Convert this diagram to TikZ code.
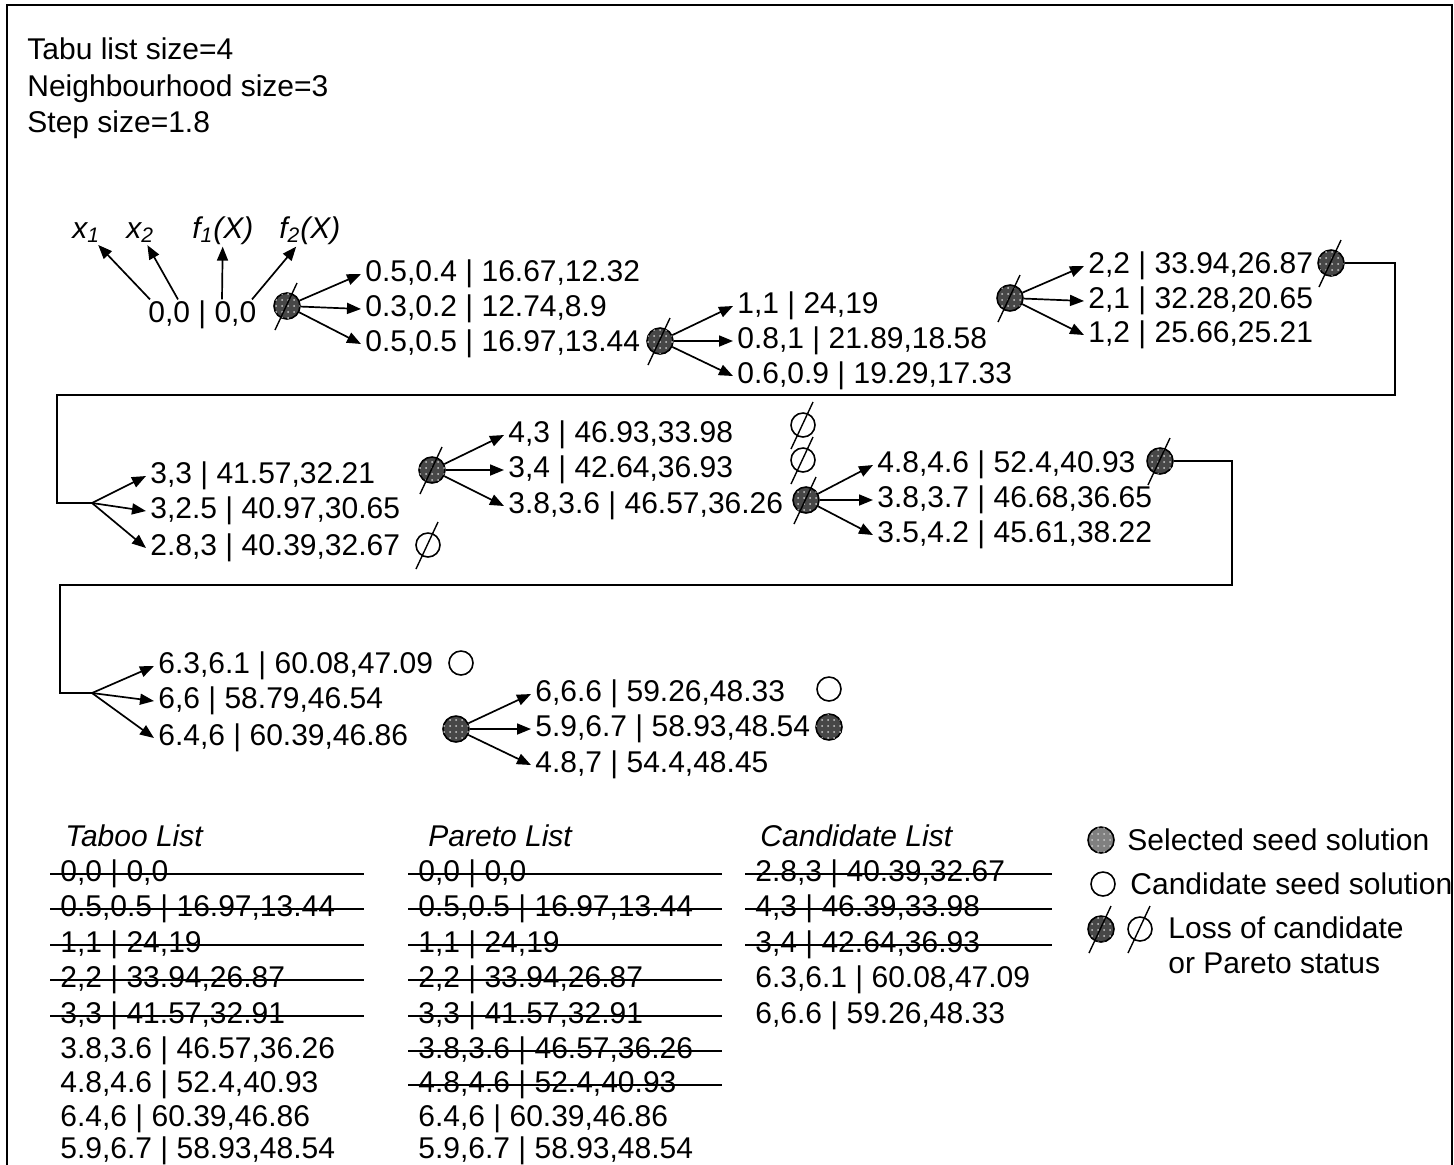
\documentclass[tikz,border=0pt]{standalone}
\usepackage{fontspec}
\setmainfont{Liberation Sans}
\usetikzlibrary{arrows.meta,patterns}
\newcommand{\cutnode}[1]{\draw[line width=0.7pt] (#1) ++(-12,24) -- ++(22,-47);}

\begin{document}
\begin{tikzpicture}[x=0.5pt,y=-0.5pt,font=\fontsize{15}{17}\selectfont,t/.style={anchor=west,inner sep=2pt,text height=0.72em,text depth=0pt,yshift=-1.5pt},lab/.style={anchor=base west,inner sep=1pt},seed/.style={circle,draw,line width=0.8pt,fill=black!72,postaction={pattern=dots,pattern color=white!80!black},minimum size=13pt,inner sep=0pt},cand/.style={circle,draw,line width=0.8pt,minimum size=12pt,inner sep=0pt},arr/.style={-{Triangle[length=7pt,width=5.5pt]},line width=0.85pt},ln/.style={line width=0.85pt}]
\useasboundingbox (0,0) rectangle (1454,1164);
\clip (0,0) rectangle (1454,1164);
\draw[ln] (7,5) rectangle (1452,1300);
% parameters
\node[t] (h1) at (23,49) {Tabu list size=4};
\node[t] (h2) at (23,86) {Neighbourhood size=3};
\node[t] (h3) at (23,122) {Step size=1.8};
% first row
\node[lab] (lx1) at (70,238) {\textit{x\textsubscript{1}}};
\node[lab] (lx2) at (124,238) {\textit{x\textsubscript{2}}};
\node[lab] (lf1) at (190,238) {\textit{f\textsubscript{1}(X)}};
\node[lab] (lf2) at (277,238) {\textit{f\textsubscript{2}(X)}};
\node[t] (root) at (144,312) {0,0 | 0,0};
\draw[arr] ([xshift=3pt,yshift=2pt]root.north west) -- (lx1);
\draw[arr] ([xshift=17pt,yshift=2pt]root.north west) -- (lx2);
\draw[arr] ([xshift=39pt,yshift=2pt]root.north west) -- (lf1);
\draw[arr] ([xshift=54pt,yshift=2pt]root.north west) -- (lf2);
\node[seed] (c1) at (287,306) {};\cutnode{c1}
\node[t] (a1) at (361,271) {0.5,0.4 | 16.67,12.32};
\node[t] (a2) at (361,306) {0.3,0.2 | 12.74,8.9};
\node[t] (a3) at (361,341) {0.5,0.5 | 16.97,13.44};
\draw[arr](c1)--(a1.west);\draw[arr](c1)--(a2.west);\draw[arr](c1)--(a3.west);
\node[seed] (c2) at (660,341) {};\cutnode{c2}
\node[t] (b1) at (733,303) {1,1 | 24,19};
\node[t] (b2) at (733,338) {0.8,1 | 21.89,18.58};
\node[t] (b3) at (733,373) {0.6,0.9 | 19.29,17.33};
\draw[arr](c2)--(b1.west);\draw[arr](c2)--(b2.west);\draw[arr](c2)--(b3.west);
\node[seed] (c3) at (1010,298) {};\cutnode{c3}
\node[t] (d1) at (1084,263) {2,2 | 33.94,26.87};
\node[t] (d2) at (1084,298) {2,1 | 32.28,20.65};
\node[t] (d3) at (1084,332) {1,2 | 25.66,25.21};
\draw[arr](c3)--(d1.west);\draw[arr](c3)--(d2.west);\draw[arr](c3)--(d3.west);
\node[seed] (c4) at (1331,263) {};\cutnode{c4}
\coordinate (k1) at (1395,395);\coordinate (k2) at (57,395);\coordinate (p1) at (92,503);
\draw[ln] (c4.east) -| (k1) -- (k2) |- (p1);
% second row
\node[t] (e1) at (146,473) {3,3 | 41.57,32.21};
\node[t] (e2) at (146,508) {3,2.5 | 40.97,30.65};
\node[t] (e3) at (146,545) {2.8,3 | 40.39,32.67};
\draw[arr](p1)--(e1.west);\draw[arr](p1)--(e2.west);\draw[arr](p1)--(e3.west);
\node[cand] (z1) at (428,545) {};\cutnode{z1}
\node[seed] (c5) at (432,470) {};\cutnode{c5}
\node[t] (g1) at (504,432) {4,3 | 46.93,33.98};
\node[t] (g2) at (504,467) {3,4 | 42.64,36.93};
\node[t] (g3) at (504,503) {3.8,3.6 | 46.57,36.26};
\draw[arr](c5)--(g1.west);\draw[arr](c5)--(g2.west);\draw[arr](c5)--(g3.west);
\node[cand] (z2) at (803,425) {};\cutnode{z2}
\node[cand] (z3) at (803,460) {};\cutnode{z3}
\node[seed] (c6) at (806,500) {};\cutnode{c6}
\node[t] (n1) at (873,462) {4.8,4.6 | 52.4,40.93};
\node[t] (n2) at (873,497) {3.8,3.7 | 46.68,36.65};
\node[t] (n3) at (873,532) {3.5,4.2 | 45.61,38.22};
\draw[arr](c6)--(n1.west);\draw[arr](c6)--(n2.west);\draw[arr](c6)--(n3.west);
\node[seed] (c7) at (1160,461) {};\cutnode{c7}
\coordinate (k3) at (1232,585);\coordinate (k4) at (60,585);\coordinate (p2) at (92,693);
\draw[ln] (c7.east) -| (k3) -- (k4) |- (p2);
% third row
\node[t] (m1) at (154,663) {6.3,6.1 | 60.08,47.09};
\node[t] (m2) at (154,698) {6,6 | 58.79,46.54};
\node[t] (m3) at (154,735) {6.4,6 | 60.39,46.86};
\draw[arr](p2)--(m1.west);\draw[arr](p2)--(m2.west);\draw[arr](p2)--(m3.west);
\node[cand] (o1) at (461,663) {};
\node[seed] (c8) at (456,729) {};
\node[t] (q1) at (531,691) {6,6.6 | 59.26,48.33};
\node[t] (q2) at (531,726) {5.9,6.7 | 58.93,48.54};
\node[t] (q3) at (531,762) {4.8,7 | 54.4,48.45};
\draw[arr](c8)--(q1.west);\draw[arr](c8)--(q2.west);\draw[arr](c8)--(q3.west);
\node[cand] (o2) at (829,689) {};
\node[seed] (c9) at (829,727) {};
% lists
\coordinate (tR) at (364,0);\coordinate (pR) at (722,0);\coordinate (cR) at (1052,0);
\node[t] (th) at (61,836) {\textit{Taboo List}};
\node[t] (ta1) at (56,871) {0,0 | 0,0};
\node[t] (ta2) at (56,906) {0.5,0.5 | 16.97,13.44};
\node[t] (ta3) at (56,942) {1,1 | 24,19};
\node[t] (ta4) at (56,977) {2,2 | 33.94,26.87};
\node[t] (ta5) at (56,1013) {3,3 | 41.57,32.91};
\node[t] (ta6) at (56,1048) {3.8,3.6 | 46.57,36.26};
\node[t] (ta7) at (56,1082) {4.8,4.6 | 52.4,40.93};
\node[t] (ta8) at (56,1116) {6.4,6 | 60.39,46.86};
\node[t] (ta9) at (56,1148) {5.9,6.7 | 58.93,48.54};
\draw[ln]([xshift=-3pt]ta1.west)--(ta1.west-|tR);\draw[ln]([xshift=-3pt]ta2.west)--(ta2.west-|tR);
\draw[ln]([xshift=-3pt]ta3.west)--(ta3.west-|tR);\draw[ln]([xshift=-3pt]ta4.west)--(ta4.west-|tR);
\draw[ln]([xshift=-3pt]ta5.west)--(ta5.west-|tR);
\node[t] (ph) at (424,836) {\textit{Pareto List}};
\node[t] (pa1) at (414,871) {0,0 | 0,0};
\node[t] (pa2) at (414,906) {0.5,0.5 | 16.97,13.44};
\node[t] (pa3) at (414,942) {1,1 | 24,19};
\node[t] (pa4) at (414,977) {2,2 | 33.94,26.87};
\node[t] (pa5) at (414,1013) {3,3 | 41.57,32.91};
\node[t] (pa6) at (414,1048) {3.8,3.6 | 46.57,36.26};
\node[t] (pa7) at (414,1082) {4.8,4.6 | 52.4,40.93};
\node[t] (pa8) at (414,1116) {6.4,6 | 60.39,46.86};
\node[t] (pa9) at (414,1148) {5.9,6.7 | 58.93,48.54};
\draw[ln]([xshift=-3pt]pa1.west)--(pa1.west-|pR);\draw[ln]([xshift=-3pt]pa2.west)--(pa2.west-|pR);
\draw[ln]([xshift=-3pt]pa3.west)--(pa3.west-|pR);\draw[ln]([xshift=-3pt]pa4.west)--(pa4.west-|pR);
\draw[ln]([xshift=-3pt]pa5.west)--(pa5.west-|pR);\draw[ln]([xshift=-3pt]pa6.west)--(pa6.west-|pR);
\draw[ln]([xshift=-3pt]pa7.west)--(pa7.west-|pR);
\node[t] (ch) at (756,836) {\textit{Candidate List}};
\node[t] (ca1) at (751,871) {2.8,3 | 40.39,32.67};
\node[t] (ca2) at (751,906) {4,3 | 46.39,33.98};
\node[t] (ca3) at (751,942) {3,4 | 42.64,36.93};
\node[t] (ca4) at (751,977) {6.3,6.1 | 60.08,47.09};
\node[t] (ca5) at (751,1013) {6,6.6 | 59.26,48.33};
\draw[ln]([xshift=-3pt]ca1.west)--(ca1.west-|cR);\draw[ln]([xshift=-3pt]ca2.west)--(ca2.west-|cR);
\draw[ln]([xshift=-3pt]ca3.west)--(ca3.west-|cR);
% legend
\node[seed,fill=black!50] (s1) at (1101,840) {};
\node[t] (l1) at (1123,840) {Selected seed solution};
\node[cand] (s2) at (1103,884) {};
\node[t] (l2) at (1126,884) {Candidate seed solution};
\node[seed] (s3) at (1101,929) {};\cutnode{s3}
\node[cand] (s4) at (1140,929) {};\cutnode{s4}
\node[t] (l3) at (1164,928) {Loss of candidate};
\node[t] (l4) at (1164,963) {or Pareto status};
\end{tikzpicture}
\end{document}
